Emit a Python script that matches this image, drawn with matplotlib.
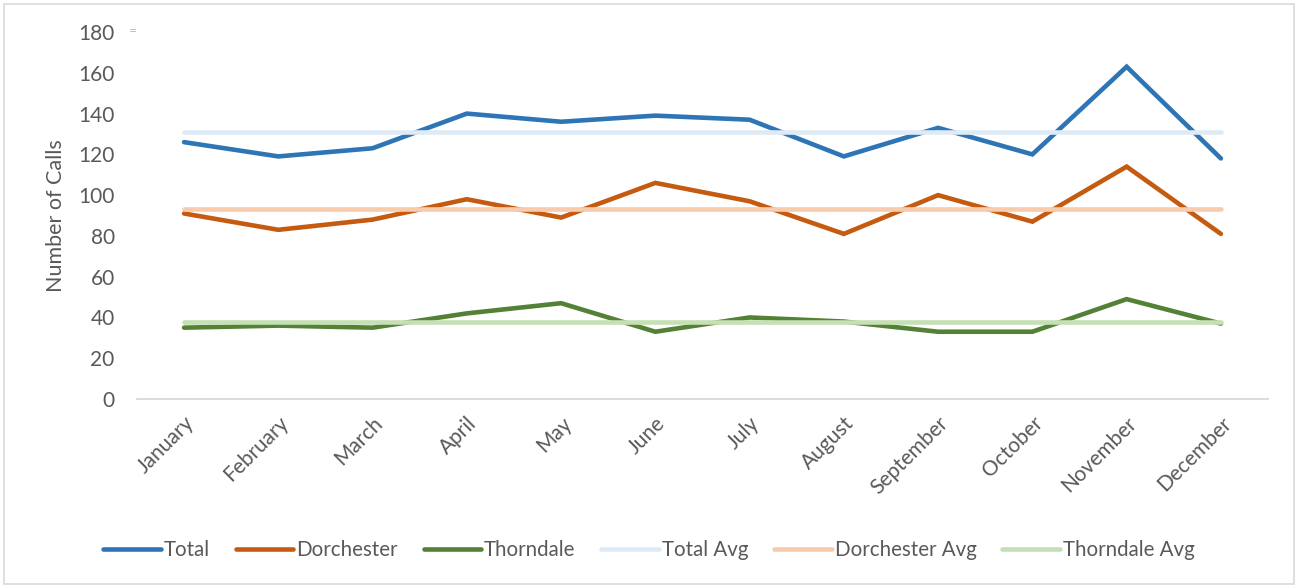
import numpy as np
import matplotlib.pyplot as plt
from matplotlib.patches import Rectangle

plt.rcParams['font.family'] = ['Lato', 'DejaVu Sans']

# Monthly call counts per station
months = ["January", "February", "March", "April", "May", "June",
          "July", "August", "September", "October", "November", "December"]
total = [126, 119, 123, 140, 136, 139, 137, 119, 133, 120, 163, 118]
dorchester = [91, 83, 88, 98, 89, 106, 97, 81, 100, 87, 114, 81]
thorndale = [35, 36, 35, 42, 47, 33, 40, 38, 33, 33, 49, 37]

# Yearly averages drawn as flat reference lines
total_avg = 131
dorchester_avg = 93
thorndale_avg = 38

text_color = "#595959"
grid_color = "#D9D9D9"

fig = plt.figure(figsize=(12.98, 5.88), dpi=100)
ax = fig.add_axes([0.1055, 0.3214, 0.8714, 0.6241])

x = np.arange(len(months))
lw = 3.3
ax.plot(x, total, color="#2E75B6", lw=lw, label="Total", solid_capstyle="round", solid_joinstyle="miter")
ax.plot(x, dorchester, color="#C55A11", lw=lw, label="Dorchester", solid_capstyle="round", solid_joinstyle="miter")
ax.plot(x, thorndale, color="#538135", lw=lw, label="Thorndale", solid_capstyle="round", solid_joinstyle="miter")
ax.plot(x, [total_avg] * len(x), color="#DEEBF7", lw=lw, label="Total Avg", solid_capstyle="round")
ax.plot(x, [dorchester_avg] * len(x), color="#F8CBAD", lw=lw, label="Dorchester Avg", solid_capstyle="round")
ax.plot(x, [thorndale_avg] * len(x), color="#C5E0B4", lw=lw, label="Thorndale Avg", solid_capstyle="round")

ax.set_xlim(-0.5, len(months) - 0.5)
ax.set_ylim(0, 180)
ax.set_yticks(np.arange(0, 181, 20))
ax.set_xticks(x)
ax.set_xticklabels(months, rotation=45, ha="right", rotation_mode="anchor")

for side in ["top", "right", "left"]:
    ax.spines[side].set_visible(False)
ax.spines["bottom"].set_color(grid_color)
ax.spines["bottom"].set_linewidth(1.3)
ax.tick_params(axis="both", length=0, labelsize=15, colors=text_color)
ax.tick_params(axis="y", pad=16)
ax.tick_params(axis="x", pad=10)

ax.set_ylabel("Number of Calls", fontsize=15.5, color=text_color)
ax.yaxis.set_label_coords(-0.063, 0.5)

ax.legend(loc="center", bbox_to_anchor=(0.5, 1 - 550 / 588), bbox_transform=fig.transFigure,
          ncol=6, frameon=False, fontsize=14.8, labelcolor=text_color,
          handlelength=2.8, handletextpad=0.15, columnspacing=1.25)

# small mark beside the top tick and the chart border
fig.text(133 / 1298, 1 - 31 / 588, "=", color="#BFBFBF", fontsize=10, ha="center", va="center")
fig.patches.append(Rectangle((4 / 1298, 4 / 588), 1 - 8 / 1298, 1 - 8 / 588,
                             transform=fig.transFigure, fill=False,
                             edgecolor=grid_color, lw=1.2))

fig.savefig("out.png", dpi=100)
